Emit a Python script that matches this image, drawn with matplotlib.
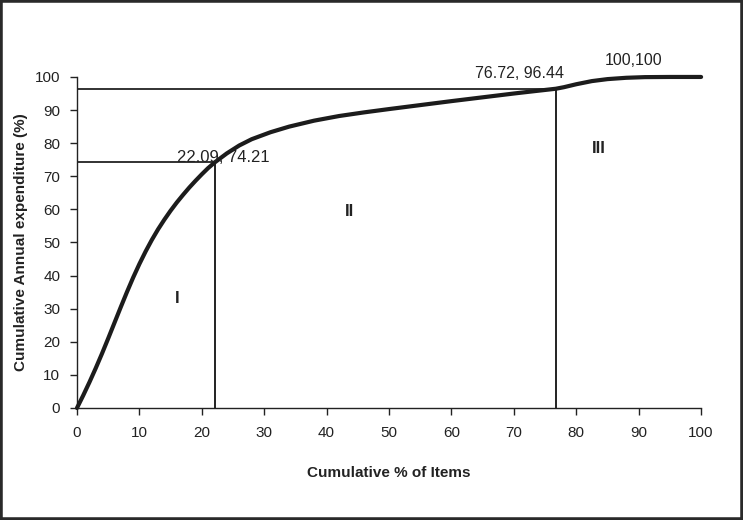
import matplotlib
matplotlib.use("Agg")
import matplotlib.pyplot as plt
from matplotlib.patches import Rectangle

plt.rcParams['font.family'] = ['Liberation Sans', 'DejaVu Sans']

# Cumulative curve
items_pct = [0, 1, 2, 3, 4, 5, 6, 7, 8, 9, 10, 11, 12, 13, 14, 15, 16, 17, 18, 19, 20, 21, 22.09,
             24, 26, 28, 31, 34, 38, 42, 46, 50, 55, 60, 65, 70, 73, 76.72,
             78, 80, 82.5, 85, 88, 91, 95, 100]
expend_pct = [0, 3.8, 7.8, 12.0, 16.4, 21.0, 25.7, 30.4, 35.0, 39.4, 43.5, 47.3, 50.8, 54.0, 56.9, 59.6, 62.1, 64.4, 66.6, 68.65, 70.6, 72.45, 74.21,
              76.9, 79.3, 81.2, 83.3, 85.0, 86.8, 88.2, 89.3, 90.3, 91.5, 92.7, 93.85, 95.0, 95.65, 96.44,
              96.9, 97.8, 98.75, 99.35, 99.75, 99.95, 100, 100]

cut_points = [(22.09, 74.21), (76.72, 96.44)]
annotations = ["22.09, 74.21", "76.72, 96.44", "100,100"]
regions = ["I", "II", "III"]
x_ticks = list(range(0, 101, 10))
y_ticks = list(range(0, 101, 10))

fig = plt.figure(figsize=(7.43, 5.2), dpi=100)
ax = fig.add_axes([0.1036, 0.2154, 0.84, 0.6366])

dark = '#222222'
ax.plot(items_pct, expend_pct, color='#1c1c1c', lw=3.0, solid_capstyle='round',
        solid_joinstyle='round', zorder=3, clip_on=False)

for (cx, cy) in cut_points:
    ax.plot([0, cx], [cy, cy], color=dark, lw=1.3, zorder=2)
    ax.plot([cx, cx], [0, cy], color=dark, lw=1.4, zorder=2)

ax.text(16.1, 74.4, annotations[0], fontsize=12, color=dark, ha='left', va='baseline')
ax.text(63.7, 99.7, annotations[1], fontsize=11.5, color=dark, ha='left', va='baseline')
ax.text(84.6, 103.7, annotations[2], fontsize=11.5, color=dark, ha='left', va='baseline')

ax.text(16.1, 33.2, regions[0], fontsize=12, fontweight='bold', color=dark, ha='center', va='center')
ax.text(43.7, 59.5, regions[1], fontsize=12, fontweight='bold', color=dark, ha='center', va='center')
ax.text(83.6, 78.5, regions[2], fontsize=12, fontweight='bold', color=dark, ha='center', va='center')

ax.set_xlim(0, 100)
ax.set_ylim(0, 100)
ax.set_xticks(x_ticks)
ax.set_yticks(y_ticks)
ax.tick_params(direction='out', length=5, width=1, colors=dark, labelsize=11)
ax.tick_params(axis='x', pad=8)
ax.tick_params(axis='y', pad=7)
for s in ['top', 'right']:
    ax.spines[s].set_visible(False)
for s in ['left', 'bottom']:
    ax.spines[s].set_color(dark)
    ax.spines[s].set_linewidth(1)

ax.set_xlabel("Cumulative % of Items", fontsize=11, fontweight='bold', color=dark, labelpad=19)
ax.set_ylabel("Cumulative Annual expenditure (%)", fontsize=11, fontweight='bold', color=dark, labelpad=5)

fig.patches.append(Rectangle((0, 0), 1, 1, transform=fig.transFigure, fill=False,
                             edgecolor='#2a2a2a', linewidth=4, zorder=10))

fig.savefig("out.png", dpi=100)
